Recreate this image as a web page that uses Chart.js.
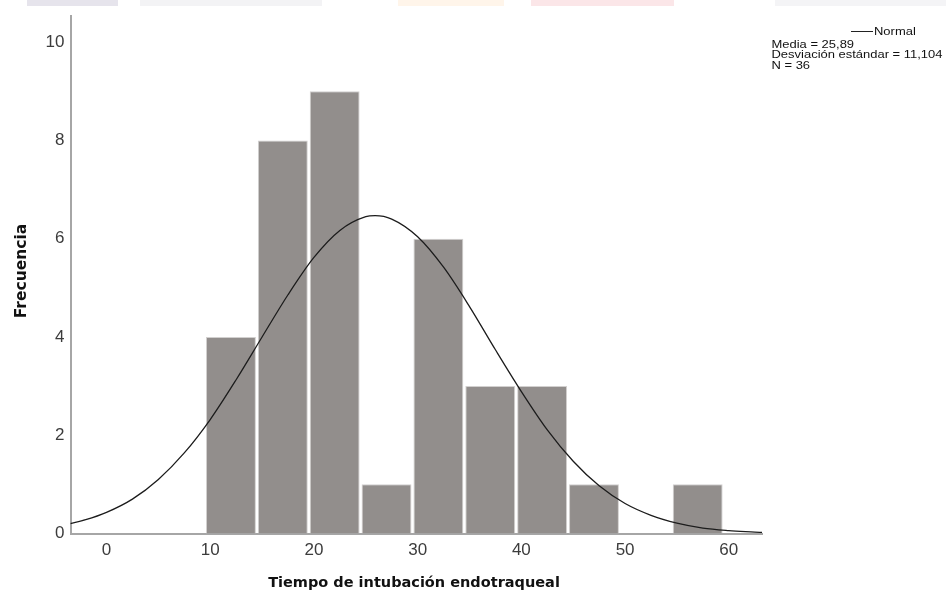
<!DOCTYPE html>
<html>
<head>
<meta charset="utf-8">
<script src="https://cdn.jsdelivr.net/npm/chart.js@4/dist/chart.umd.min.js"></script>
<style>
  html, body { margin: 0; padding: 0; background: #fff; }
  #wrap { width: 946px; height: 594px; }
</style>
</head>
<body>
<div id="wrap"><canvas id="histograma" width="946" height="594"></canvas></div>
<script>
const centrosIntervalo = [12, 17, 22, 27, 32, 37, 42, 47, 52, 57];
const frecuencias = [4, 8, 9, 1, 6, 3, 3, 1, 0, 1];

// Curva normal (x, frecuencia esperada)
const curvaX = [-3.5, -2, 0, 2.5, 5, 7.5, 10, 12.5, 15, 17.5, 20, 22.5, 25, 25.9, 27.5, 30, 32.5, 35, 37.5, 40, 42.5, 45, 47.5, 50, 52.5, 55, 57.5, 60, 62.5, 63.3];
const curvaY = [0.20, 0.28, 0.43, 0.70, 1.10, 1.64, 2.32, 3.13, 4.00, 4.86, 5.62, 6.17, 6.45, 6.47, 6.40, 6.04, 5.42, 4.62, 3.74, 2.89, 2.11, 1.47, 0.97, 0.61, 0.37, 0.21, 0.11, 0.06, 0.03, 0.02];

// Etiquetas de los ejes
const ticksX = [0, 10, 20, 30, 40, 50, 60];
const ticksY = [0, 2, 4, 6, 8, 10];

const leyenda = ['Media = 25,89', 'Desviación estándar = 11,104', 'N = 36'];

const fuenteTicks = "'Liberation Sans Narrow', 'Arial Narrow', 'Liberation Sans', Arial, sans-serif";

// Textos de titulos y leyenda dibujados encima del grafico
const textosExtra = {
    id: 'textosExtra',
    beforeDraw(chart) {
        const ctx = chart.ctx;
        ctx.save();
        // restos de la marca de agua superior
        const bloques = [[27, 118, '#e6e4ec'], [140, 322, '#f3f3f5'], [398, 504, '#fff5ea'], [531, 674, '#fbe6e8'], [775, 946, '#f4f4f6']];
        bloques.forEach(b => {
            ctx.fillStyle = b[2];
            ctx.fillRect(b[0], 0, b[1] - b[0], 6);
        });
        ctx.restore();
    },
    afterDraw(chart) {
        const ctx = chart.ctx;
        ctx.save();
        ctx.fillStyle = '#111';
        ctx.font = "bold 14.5px 'DejaVu Sans', Verdana, sans-serif";
        ctx.textAlign = 'center';
        ctx.textBaseline = 'alphabetic';
        ctx.fillText('Tiempo de intubación endotraqueal', 414, 587);

        ctx.save();
        ctx.font = "bold 15.5px 'DejaVu Sans', Verdana, sans-serif";
        ctx.translate(25.5, 271);
        ctx.rotate(-Math.PI / 2);
        ctx.fillText('Frecuencia', 0, 0);
        ctx.restore();

        // leyenda
        ctx.strokeStyle = '#222';
        ctx.lineWidth = 1;
        ctx.beginPath();
        ctx.moveTo(851, 31.5);
        ctx.lineTo(873, 31.5);
        ctx.stroke();

        ctx.font = "10.5px 'Liberation Sans', Arial, sans-serif";
        ctx.textAlign = 'left';
        const estirar = 171 / ctx.measureText(leyenda[1]).width;
        ctx.save();
        ctx.translate(874, 35);
        ctx.scale(estirar, 1);
        ctx.fillText('Normal', 0, 0);
        ctx.restore();
        leyenda.forEach((t, i) => {
            ctx.save();
            ctx.translate(771.5, 48 + i * 10.3);
            ctx.scale(estirar, 1);
            ctx.fillText(t, 0, 0);
            ctx.restore();
        });
        ctx.restore();
    }
};

const ctx = document.getElementById('histograma').getContext('2d');
const grafico = new Chart(ctx, {
    data: {
        datasets: [{
            type: 'line',
            label: 'Normal',
            data: curvaX.map((x, i) => ({ x: x, y: curvaY[i] })),
            borderColor: '#1c1c1c',
            borderWidth: 1.3,
            pointRadius: 0,
            cubicInterpolationMode: 'monotone',
            order: 0
        }, {
            type: 'bar',
            label: 'Frecuencia',
            data: centrosIntervalo.map((x, i) => ({ x: x, y: frecuencias[i] })),
            backgroundColor: '#928e8c',
            borderColor: '#d2d0cf',
            borderWidth: 1,
            barPercentage: 0.962,
            categoryPercentage: 1,
            order: 1
        }]
    },
    options: {
        responsive: false,
        animation: false,
        events: [],
        layout: { padding: { left: 0, top: 12, right: 184, bottom: 0 } },
        plugins: {
            legend: { display: false },
            tooltip: { enabled: false }
        },
        scales: {
            x: {
                type: 'linear',
                offset: false,
                min: -3.47,
                max: 63.2,
                grid: { display: false, drawTicks: false, offset: false },
                border: { display: true, color: '#a6a6a6', width: 2 },
                ticks: {
                    font: { family: fuenteTicks, size: 17 },
                    color: '#3c3c3c',
                    padding: 7,
                    maxRotation: 0
                },
                afterBuildTicks: scale => { scale.ticks = ticksX.map(v => ({ value: v })); },
                afterFit: scale => { scale.height = 60.5; }
            },
            y: {
                min: 0,
                max: 10.53,
                grid: { display: false, drawTicks: false },
                border: { display: true, color: '#a6a6a6', width: 2 },
                ticks: {
                    font: { family: fuenteTicks, size: 17 },
                    color: '#3c3c3c',
                    padding: 6
                },
                afterBuildTicks: scale => { scale.ticks = ticksY.map(v => ({ value: v })); },
                afterFit: scale => { scale.width = 70.5; }
            }
        }
    },
    plugins: [textosExtra]
});
</script>
</body>
</html>
